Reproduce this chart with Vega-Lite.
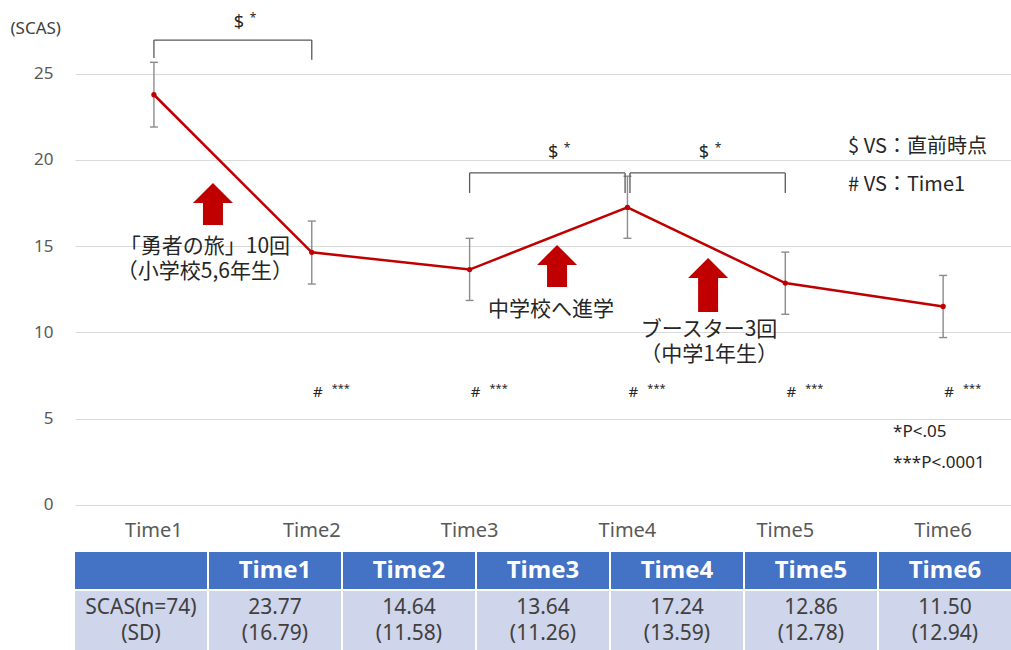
{
  "$schema": "https://vega.github.io/schema/vega-lite/v6.json",
  "padding": {"left": 10, "top": 0, "right": 0, "bottom": 0},
  "spacing": 2,
  "config": {"view": {"stroke": null}, "font": "Noto Sans CJK JP"},
  "datasets": {
    "main": [
      {"time": "Time1", "t": 1, "y": 23.77, "lo": 21.9, "hi": 25.65},
      {"time": "Time2", "t": 2, "y": 14.64, "lo": 12.8, "hi": 16.45},
      {"time": "Time3", "t": 3, "y": 13.64, "lo": 11.85, "hi": 15.45},
      {"time": "Time4", "t": 4, "y": 17.24, "lo": 15.45, "hi": 19.05},
      {"time": "Time5", "t": 5, "y": 12.86, "lo": 11.05, "hi": 14.65},
      {"time": "Time6", "t": 6, "y": 11.5, "lo": 9.7, "hi": 13.3}
    ],
    "brackets": [
      {"t": 1, "t2": 2, "y": 26.94, "y2": 26.94},
      {"t": 1, "t2": 1, "y": 26.94, "y2": 25.9},
      {"t": 2, "t2": 2, "y": 26.94, "y2": 25.8},
      {"t": 3, "t2": 3.985, "y": 19.24, "y2": 19.24},
      {"t": 3, "t2": 3, "y": 19.24, "y2": 18.08},
      {"t": 3.985, "t2": 3.985, "y": 19.24, "y2": 18.08},
      {"t": 4.016, "t2": 5, "y": 19.24, "y2": 19.24},
      {"t": 4.016, "t2": 4.016, "y": 19.24, "y2": 18.08},
      {"t": 5, "t2": 5, "y": 19.24, "y2": 18.08}
    ],
    "sig": [
      {"t": 1.539, "y": 27.93},
      {"t": 3.529, "y": 20.39},
      {"t": 4.485, "y": 20.39}
    ],
    "hash": [
      {"t": 2, "y": 6.55},
      {"t": 3, "y": 6.55},
      {"t": 4, "y": 6.55},
      {"t": 5, "y": 6.55},
      {"t": 6, "y": 6.55}
    ],
    "legendNotes": [
      {"t": 5.398, "y": 20.74, "txt": "$ VS：直前時点"},
      {"t": 5.398, "y": 18.54, "txt": "# VS：Time1"}
    ],
    "pNotes": [
      {"t": 5.683, "y": 4.23, "txt": "*P<.05"},
      {"t": 5.683, "y": 2.43, "txt": "***P<.0001"}
    ],
    "labels": [
      {"t": 1.323, "y": 14.95, "txt": "「勇者の旅」10回\n（小学校5,6年生）"},
      {"t": 3.516, "y": 11.3, "txt": "中学校へ進学"},
      {"t": 4.517, "y": 10.14, "txt": "ブースター3回\n（中学1年生）"}
    ],
    "arrows": [
      {"t": 1.374, "y": 17.44, "kind": "short"},
      {"t": 3.554, "y": 13.85, "kind": "short"},
      {"t": 4.511, "y": 12.75, "kind": "long"}
    ],
    "cols": [
      {"col": "c0", "head": "", "body": "SCAS(n=74)\n(SD)"},
      {"col": "c1", "head": "Time1", "body": "23.77\n(16.79)"},
      {"col": "c2", "head": "Time2", "body": "14.64\n(11.58)"},
      {"col": "c3", "head": "Time3", "body": "13.64\n(11.26)"},
      {"col": "c4", "head": "Time4", "body": "17.24\n(13.59)"},
      {"col": "c5", "head": "Time5", "body": "12.86\n(12.78)"},
      {"col": "c6", "head": "Time6", "body": "11.50\n(12.94)"}
    ]
  },
  "vconcat": [
    {
      "width": 936,
      "height": 550,
      "encoding": {
        "x": {"field": "t", "type": "quantitative", "scale": {"domain": [0.5, 6.43], "nice": false, "zero": false}, "axis": null},
        "y": {"field": "y", "type": "quantitative", "scale": {"domain": [-2.61, 29.26], "nice": false, "zero": false},
          "axis": {"values": [0, 5, 10, 15, 20, 25], "title": "(SCAS)", "titleAngle": 0, "titleAlign": "left", "titleBaseline": "middle", "titleX": -65, "titleY": 28, "titleFontSize": 17, "titleFontWeight": "normal", "titleColor": "#404040", "titleFont": "Noto Sans", "labelFontSize": 17, "labelColor": "#595959", "labelFont": "Noto Sans", "labelPadding": 22, "ticks": false, "domain": false, "grid": true, "gridColor": "#d9d9d9", "gridWidth": 1}}
      },
      "layer": [
        {
          "data": {"name": "main"},
          "mark": {"type": "rule", "color": "#8c8c8c", "strokeWidth": 1.4},
          "encoding": {
            "y": {"field": "lo", "type": "quantitative", "title": "(SCAS)"},
            "y2": {"field": "hi"}
          }
        },
        {
          "data": {"name": "main"},
          "mark": {"type": "tick", "orient": "horizontal", "color": "#8c8c8c", "size": 8, "thickness": 1.4, "opacity": 1},
          "encoding": {"y": {"field": "lo", "type": "quantitative", "title": "(SCAS)"}}
        },
        {
          "data": {"name": "main"},
          "mark": {"type": "tick", "orient": "horizontal", "color": "#8c8c8c", "size": 8, "thickness": 1.4, "opacity": 1},
          "encoding": {"y": {"field": "hi", "type": "quantitative", "title": "(SCAS)"}}
        },
        {
          "data": {"name": "main"},
          "mark": {"type": "line", "color": "#C00000", "strokeWidth": 2.5}
        },
        {
          "data": {"name": "main"},
          "mark": {"type": "point", "filled": true, "size": 28, "color": "#C00000", "opacity": 1}
        },
        {
          "data": {"name": "main"},
          "mark": {"type": "text", "fontSize": 20, "color": "#595959", "font": "Noto Sans", "baseline": "middle", "dy": 26},
          "encoding": {
            "y": {"datum": 0, "type": "quantitative", "title": "(SCAS)"},
            "text": {"field": "time"}
          }
        },
        {
          "data": {"name": "brackets"},
          "mark": {"type": "rule", "color": "#595959", "strokeWidth": 1.3},
          "encoding": {
            "x2": {"field": "t2"},
            "y2": {"field": "y2"}
          }
        },
        {
          "data": {"name": "sig"},
          "mark": {"type": "text", "text": "$", "fontSize": 18, "color": "#262626", "font": "Noto Sans"}
        },
        {
          "data": {"name": "sig"},
          "mark": {"type": "text", "text": "*", "fontSize": 12, "dx": 14, "dy": -5, "color": "#262626", "font": "Noto Sans"}
        },
        {
          "data": {"name": "hash"},
          "mark": {"type": "text", "text": "#", "fontSize": 15, "dx": 6, "color": "#262626", "font": "Noto Sans"}
        },
        {
          "data": {"name": "hash"},
          "mark": {"type": "text", "text": "***", "fontSize": 11, "dx": 29, "dy": -3, "color": "#262626", "font": "Noto Sans"}
        },
        {
          "data": {"name": "legendNotes"},
          "mark": {"type": "text", "align": "left", "fontSize": 20, "color": "#262626"},
          "encoding": {"text": {"field": "txt"}}
        },
        {
          "data": {"name": "pNotes"},
          "mark": {"type": "text", "align": "left", "fontSize": 17, "color": "#262626", "font": "Noto Sans"},
          "encoding": {"text": {"field": "txt"}}
        },
        {
          "data": {"name": "arrows"},
          "mark": {"type": "point", "filled": true, "size": 1600, "color": "#C00000", "opacity": 1, "strokeWidth": 0},
          "encoding": {
            "shape": {"field": "kind", "type": "nominal", "legend": null,
              "scale": {"domain": ["short", "long"], "range": ["M0,-1.05L1,-0.05L0.5,-0.05L0.5,1.05L-0.5,1.05L-0.5,-0.05L-1,-0.05Z", "M0,-1.35L1,-0.35L0.5,-0.35L0.5,1.35L-0.5,1.35L-0.5,-0.35L-1,-0.35Z"]}}
          }
        },
        {
          "data": {"name": "labels"},
          "mark": {"type": "text", "fontSize": 21, "color": "#262626", "lineBreak": "\n", "lineHeight": 25},
          "encoding": {"text": {"field": "txt"}}
        }
      ]
    },
    {
      "width": 936,
      "height": 37,
      "data": {"name": "cols"},
      "encoding": {
        "x": {"field": "col", "type": "nominal", "sort": null, "scale": {"paddingInner": 0.015, "paddingOuter": 0}, "axis": null}
      },
      "layer": [
        {"mark": {"type": "rect", "color": "#4472C4"}},
        {"mark": {"type": "text", "color": "white", "fontSize": 24, "fontWeight": "bold", "font": "Noto Sans"}, "encoding": {"text": {"field": "head"}}}
      ]
    },
    {
      "width": 936,
      "height": 59,
      "data": {"name": "cols"},
      "encoding": {
        "x": {"field": "col", "type": "nominal", "sort": null, "scale": {"paddingInner": 0.015, "paddingOuter": 0}, "axis": null}
      },
      "layer": [
        {"mark": {"type": "rect", "color": "#CFD5EA"}},
        {"mark": {"type": "text", "color": "#404040", "fontSize": 21, "lineBreak": "\n", "lineHeight": 26, "dy": -13, "font": "Noto Sans"}, "encoding": {"text": {"field": "body"}}}
      ]
    }
  ]
}
